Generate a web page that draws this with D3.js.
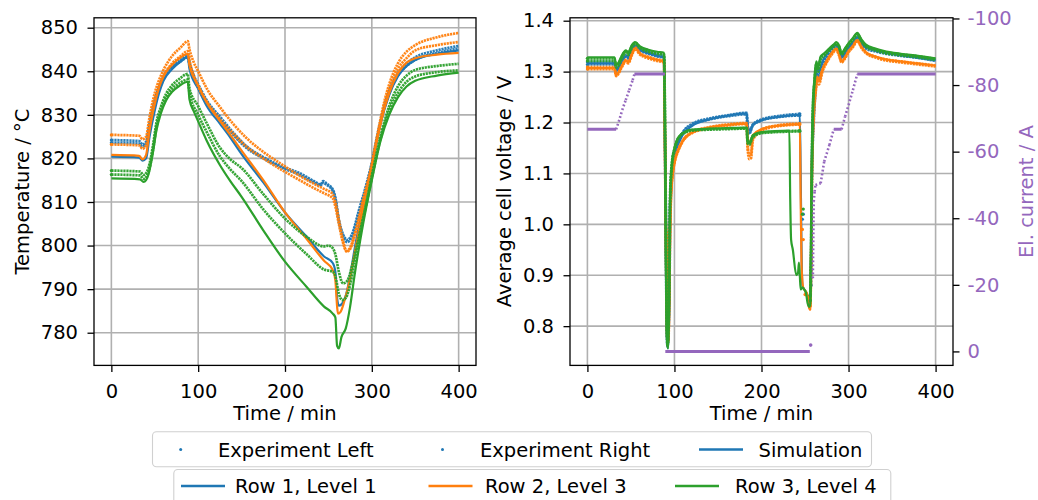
<!DOCTYPE html>
<html><head><meta charset="utf-8">
<script src="https://cdn.jsdelivr.net/npm/d3@7"></script>
<style>body{margin:0;background:#fff}svg text{font-family:"DejaVu Sans",sans-serif}</style>
</head><body><svg id="c" width="1038" height="500"></svg>
<script>
// ---------------- data ----------------
const timeTicks = [0,100,200,300,400];
const timeTickLabels = ['0','100','200','300','400'];
const tempTicks = [780,790,800,810,820,830,840,850];
const tempTickLabels = ['780','790','800','810','820','830','840','850'];
const voltTicks = [0.8,0.9,1.0,1.1,1.2,1.3,1.4];
const voltTickLabels = ['0.8','0.9','1.0','1.1','1.2','1.3','1.4'];
const currTicks = [0,-20,-40,-60,-80,-100];
const currTickLabels = ['0','-20','-40','-60','-80','-100'];
const rowNames = ['Row 1, Level 1','Row 2, Level 3','Row 3, Level 4'];
const kindNames = ['Experiment Left','Experiment Right','Simulation'];
const rowColors = ['#1f77b4','#ff7f0e','#2ca02c'];
const currentColor = '#9467bd';

// temperature [time min, °C]
const tBlueL = [[0,824.2],[32,824.0],[36,823.2],[40,823.8],[44,828],[50,833.5],[55,836.5],[60,838.8],[70,841.2],[80,842.8],[88,843.8],[90,842],[95,839],[100,837],[110,833.3],[125,829.6],[140,826],[155,822.9],[175,820.3],[195,818.3],[217,816.6],[235,814.6],[241,814],[244,814.8],[248,814.2],[255,812.9],[258,811],[262,806],[267,802.5],[272,801.3],[277,802.5],[285,808],[295,815],[300,819],[305,824],[310,828.5],[315,832.5],[320,835.5],[330,839.5],[340,841.8],[350,843.2],[375,844.8],[400,845.8]];
const tBlueR = [[0,823.6],[32,823.4],[36,822.7],[40,823.3],[44,827.3],[50,833],[55,836],[60,838.3],[70,840.8],[80,842.3],[88,843.2],[90,841.5],[95,838.5],[100,836.3],[110,832.8],[125,829],[140,825.5],[155,822.5],[175,820],[195,818],[217,816.2],[235,814.3],[241,813.8],[244,814.4],[248,813.9],[255,812.6],[258,810.5],[262,805.5],[267,802],[272,800.8],[277,802],[285,807.5],[295,814.5],[300,818.6],[305,823.5],[310,828],[315,832],[320,835],[330,839],[340,841.2],[350,842.6],[375,844.2],[400,845.2]];
const tBlueSim = [[0,820.4],[32,820.2],[36,819.5],[40,820],[44,825],[50,831],[55,835],[60,837.8],[70,840.5],[80,842.3],[88,843.3],[90,840.5],[100,836],[110,832],[125,828],[137,824.8],[150,821],[175,814.5],[200,807.6],[225,802],[245,797.5],[255,796],[258,794],[260,788],[262,786.2],[265,786.5],[270,788.5],[275,793],[280,799],[290,809],[300,818.5],[310,828],[320,834.5],[330,838.8],[340,841.2],[350,842.6],[375,844],[400,844.8]];
const tOrangeL = [[0,825.4],[32,825.2],[36,824.4],[40,825],[44,829.5],[50,835],[55,838],[60,840.3],[70,843.5],[80,845.5],[88,846.9],[90,845],[95,842],[100,840],[110,836],[125,831.8],[140,828],[155,824.8],[175,821.5],[195,818.8],[217,816],[235,814],[245,813],[255,811.8],[258,810],[262,806],[267,801],[271,798.6],[275,799.2],[280,802],[290,810],[300,818.5],[305,824],[310,829],[315,833.5],[320,837],[330,841.8],[340,844.5],[350,846],[375,847.8],[400,848.8]];
const tOrangeR = [[0,823.2],[32,823],[36,822.2],[40,823],[44,827.5],[50,833.5],[55,836.8],[60,839],[70,841.8],[80,843.5],[88,844.6],[90,842.5],[95,839],[100,836.5],[110,833],[125,829],[140,825.8],[155,822.8],[175,820],[195,817.5],[217,815],[235,813],[245,812],[255,810.8],[258,809],[262,805],[267,800.5],[271,798.8],[275,799.5],[280,802.5],[290,810.5],[300,818.5],[305,823.5],[310,828],[315,832.5],[320,836],[330,840.5],[340,843],[350,844.8],[375,846],[400,846.7]];
const tOrangeSim = [[0,820.8],[32,820.6],[36,819.8],[40,820.8],[44,826.5],[50,832.5],[55,836.3],[60,838.8],[70,841.5],[80,843.2],[88,844],[90,841.3],[100,836.8],[110,832.8],[125,828.6],[137,825.4],[150,821.8],[175,815],[200,807.6],[225,801.5],[245,796.5],[255,794.4],[258,792],[260,786],[261,784.4],[264,784.8],[268,787],[275,792.5],[280,798],[290,808.5],[300,818],[310,828],[320,835],[330,839.5],[340,842],[350,843],[375,843.8],[400,844.2]];
const tGreenL = [[0,817.2],[33,817],[37,816.2],[40,816.6],[43,818],[48,823],[52,828.3],[57,831.8],[63,834.8],[70,836.8],[78,838.2],[88,839.4],[90,836],[100,832],[110,828],[125,822.5],[137,819.8],[150,817.8],[175,811.8],[200,806.2],[225,802],[245,799.8],[250,800],[255,799.4],[258,798],[262,794],[267,791.3],[272,792],[278,796],[285,802],[295,811],[300,816],[310,825],[320,832],[330,836.5],[340,839],[350,840.3],[375,841.2],[400,841.7]];
const tGreenR = [[0,816.3],[33,816.1],[37,815.3],[40,815.7],[43,817],[48,822],[52,827.3],[57,831],[63,834],[70,836],[78,837.2],[88,838.1],[90,835],[100,830],[110,826],[125,820.5],[137,817.5],[150,814.8],[175,808.3],[200,802.8],[225,798],[245,794.5],[255,794],[258,793],[262,789],[266,787.5],[270,788],[275,791],[280,796],[290,806],[300,815.5],[310,824.5],[320,831],[330,835],[340,837.6],[350,838.8],[375,839.8],[400,840.2]];
const tGreenSim = [[0,815.4],[33,815.2],[37,814.6],[40,815],[43,816.5],[48,821.5],[52,826.5],[57,830.3],[63,833.3],[70,835.3],[78,836.6],[88,837.6],[90,833.5],[95,830.8],[100,828.5],[110,824],[125,818.5],[137,814.8],[150,811.2],[175,803.5],[200,796.3],[225,790.5],[245,786],[255,784.4],[258,783.5],[260,777],[262,776.4],[265,779],[270,781],[275,786],[280,793],[290,805],[300,815],[310,824],[320,830],[330,834],[340,836.5],[350,837.8],[375,839],[400,839.7]];

// average cell voltage [time min, V]  (null = gap in the measurement)
const vBlueL = [[0,1.314],[31,1.314],[33,1.300],[35,1.304],[40,1.320],[44,1.329],[47,1.326],[51,1.341],[55,1.349],[60,1.342],[70,1.335],[80,1.330],[88,1.327],[89,1.15],[90,1.02],[91,0.80],[92,0.76],[94,0.85],[95,1.04],[96,1.07],[98,1.12],[100,1.14],[105,1.165],[110,1.182],[120,1.197],[140,1.208],[160,1.214],[183,1.219],[184,1.19],[186,1.18],[190,1.196],[200,1.206],[220,1.213],[244,1.217],null,[247,1.01],null,[257,0.91],[258,1.12],[260,1.22],[262,1.27],[264,1.30],[266,1.29],[270,1.315],[275,1.33],[280,1.342],[286,1.350],[289,1.342],[292,1.328],[296,1.336],[300,1.346],[305,1.356],[310,1.366],[315,1.354],[320,1.347],[330,1.342],[340,1.338],[360,1.333],[380,1.329],[400,1.323]];
const vBlueR = [[0,1.319],[31,1.319],[33,1.305],[35,1.308],[40,1.323],[44,1.332],[47,1.329],[51,1.344],[55,1.352],[60,1.345],[70,1.338],[80,1.333],[88,1.330],[89,1.18],[90,1.06],[91,0.85],[92,0.77],[94,0.83],[95,1.00],[96,1.06],[98,1.11],[100,1.135],[105,1.162],[110,1.18],[120,1.195],[140,1.206],[160,1.212],[183,1.216],[184,1.188],[186,1.178],[190,1.194],[200,1.204],[220,1.211],[244,1.214],null,[248,1.02],null,[257,0.88],[258,1.10],[260,1.20],[262,1.26],[264,1.295],[266,1.285],[270,1.312],[275,1.328],[280,1.34],[286,1.35],[289,1.34],[292,1.326],[296,1.334],[300,1.344],[305,1.354],[310,1.364],[315,1.352],[320,1.345],[330,1.34],[340,1.336],[360,1.331],[380,1.327],[400,1.321]];
const vBlueSim = [[0,1.316],[31,1.316],[33,1.302],[35,1.305],[40,1.322],[44,1.330],[47,1.328],[51,1.342],[55,1.350],[60,1.343],[70,1.336],[80,1.331],[88,1.328],[89,1.20],[90,0.95],[91,0.80],[92,0.757],[93,0.757],[94,0.90],[95,1.05],[97,1.10],[100,1.135],[105,1.160],[110,1.177],[120,1.193],[140,1.206],[160,1.213],[183,1.218],[184,1.195],[187,1.185],[190,1.195],[200,1.204],[220,1.211],[244,1.215],[245,1.10],[246,0.95],[247,0.88],[250,0.87],[253,0.86],[255,0.845],[256,0.84],[257,0.95],[258,1.15],[260,1.25],[262,1.29],[264,1.31],[266,1.30],[270,1.32],[275,1.335],[280,1.345],[286,1.352],[289,1.345],[292,1.330],[296,1.338],[300,1.348],[305,1.358],[310,1.368],[315,1.355],[320,1.348],[330,1.343],[340,1.338],[360,1.332],[380,1.327],[400,1.322]];
const vOrangeL = [[0,1.305],[31,1.305],[33,1.291],[35,1.294],[40,1.31],[44,1.32],[47,1.316],[51,1.332],[55,1.344],[60,1.334],[70,1.326],[80,1.321],[88,1.318],[89,1.17],[90,1.0],[91,0.98],[92,0.79],[93,0.77],[95,0.98],[96,1.05],[98,1.10],[100,1.12],[105,1.147],[110,1.164],[120,1.179],[140,1.189],[160,1.194],[183,1.197],[184,1.15],[186,1.128],[188,1.13],[190,1.165],[200,1.184],[220,1.193],[244,1.196],null,[247,0.99],null,[250,0.862],[253,0.86],[255,0.836],[256,0.834],[257,0.92],[258,1.10],[260,1.21],[262,1.255],[264,1.28],[266,1.275],[270,1.30],[275,1.318],[280,1.332],[286,1.342],[289,1.332],[292,1.318],[296,1.326],[300,1.338],[305,1.348],[310,1.36],[315,1.346],[320,1.336],[330,1.328],[340,1.323],[360,1.318],[380,1.314],[400,1.31]];
const vOrangeR = [[0,1.309],[31,1.309],[33,1.294],[35,1.297],[40,1.313],[44,1.323],[47,1.319],[51,1.335],[55,1.347],[60,1.337],[70,1.329],[80,1.324],[88,1.321],[89,1.19],[90,1.02],[91,0.90],[92,0.80],[93,0.78],[95,0.99],[96,1.06],[98,1.105],[100,1.125],[105,1.15],[110,1.166],[120,1.181],[140,1.191],[160,1.196],[183,1.199],[184,1.16],[186,1.135],[188,1.14],[190,1.17],[200,1.186],[220,1.195],[244,1.198],null,[248,0.97],null,[251,0.865],[254,0.855],[256,0.838],[257,0.93],[258,1.11],[260,1.22],[262,1.26],[264,1.285],[266,1.28],[270,1.303],[275,1.32],[280,1.334],[286,1.344],[289,1.334],[292,1.32],[296,1.328],[300,1.34],[305,1.35],[310,1.362],[315,1.348],[320,1.338],[330,1.33],[340,1.325],[360,1.32],[380,1.316],[400,1.312]];
const vOrangeSim = [[0,1.307],[31,1.307],[33,1.293],[35,1.296],[40,1.312],[44,1.322],[47,1.318],[51,1.334],[55,1.346],[60,1.336],[70,1.328],[80,1.323],[88,1.320],[89,1.2],[90,0.95],[91,0.80],[92,0.76],[93,0.76],[94,0.88],[95,1.02],[97,1.08],[100,1.12],[105,1.148],[110,1.165],[120,1.180],[140,1.190],[160,1.195],[183,1.198],[184,1.17],[187,1.16],[190,1.175],[200,1.187],[220,1.194],[244,1.197],[245,1.05],[246,0.92],[248,0.875],[252,0.865],[255,0.835],[256,0.832],[257,0.93],[258,1.12],[260,1.23],[262,1.27],[264,1.29],[266,1.285],[270,1.305],[275,1.322],[280,1.335],[286,1.345],[289,1.335],[292,1.320],[296,1.328],[300,1.34],[305,1.35],[310,1.362],[315,1.348],[320,1.338],[330,1.330],[340,1.325],[360,1.320],[380,1.316],[400,1.312]];
const vGreenL = [[0,1.326],[31,1.326],[33,1.312],[35,1.314],[40,1.331],[44,1.340],[47,1.336],[51,1.350],[55,1.357],[60,1.349],[70,1.341],[80,1.337],[88,1.335],[89,1.22],[90,1.0],[91,0.82],[92,0.76],[94,0.88],[95,1.06],[97,1.12],[100,1.148],[103,1.165],[107,1.175],[112,1.181],[120,1.185],[140,1.187],[160,1.188],[183,1.189],[184,1.162],[186,1.158],[190,1.173],[200,1.18],[215,1.182],[230,1.183],[244,1.184],null,[248,1.03],null,[256,0.85],[257,0.96],[258,1.13],[259,1.22],[261,1.285],[263,1.315],[265,1.305],[268,1.327],[272,1.333],[278,1.344],[284,1.353],[286,1.356],[289,1.35],[292,1.335],[296,1.344],[300,1.354],[305,1.364],[310,1.374],[315,1.361],[320,1.351],[330,1.344],[340,1.339],[360,1.334],[380,1.33],[400,1.325]];
const vGreenR = [[0,1.321],[31,1.321],[33,1.308],[35,1.31],[40,1.327],[44,1.337],[47,1.333],[51,1.347],[55,1.355],[60,1.347],[70,1.339],[80,1.335],[88,1.333],[89,1.24],[90,1.03],[91,0.85],[92,0.765],[94,0.86],[95,1.04],[97,1.11],[100,1.145],[103,1.163],[107,1.174],[112,1.18],[120,1.184],[140,1.186],[160,1.187],[183,1.188],[184,1.16],[186,1.156],[190,1.171],[200,1.179],[215,1.181],[230,1.182],[244,1.183],null,[247,1.02],null,[256,0.86],[257,0.97],[258,1.14],[259,1.23],[261,1.28],[263,1.31],[265,1.3],[268,1.324],[272,1.331],[278,1.342],[284,1.351],[286,1.354],[289,1.348],[292,1.333],[296,1.342],[300,1.352],[305,1.362],[310,1.372],[315,1.359],[320,1.349],[330,1.342],[340,1.337],[360,1.332],[380,1.328],[400,1.323]];
const vGreenSim = [[0,1.328],[31,1.328],[33,1.314],[35,1.316],[40,1.333],[44,1.342],[47,1.338],[51,1.352],[55,1.358],[60,1.350],[70,1.343],[80,1.339],[88,1.337],[89,1.2],[90,0.95],[91,0.80],[92,0.757],[93,0.757],[94,0.9],[95,1.05],[97,1.12],[100,1.15],[103,1.166],[107,1.176],[112,1.182],[120,1.186],[140,1.188],[160,1.189],[183,1.190],[184,1.165],[186,1.16],[190,1.175],[200,1.181],[215,1.183],[232,1.184],[233,1.05],[234,0.97],[236,0.95],[240,0.90],[242,0.905],[243,0.925],[244,0.90],[245,0.872],[247,0.876],[249,0.872],[251,0.866],[253,0.845],[255,0.838],[256,0.842],[257,0.95],[258,1.12],[259,1.22],[261,1.29],[263,1.32],[265,1.31],[268,1.33],[272,1.336],[278,1.346],[284,1.355],[286,1.358],[289,1.352],[292,1.337],[296,1.346],[300,1.356],[305,1.366],[310,1.376],[315,1.363],[320,1.353],[330,1.346],[340,1.341],[360,1.335],[380,1.331],[400,1.326]];

// electrolysis current [time min, A]
const current = [[0,-66.7],[33,-66.7],[36,-69],[40,-72.5],[44,-75.5],[48,-78.5],[52,-81.5],[54,-83.3],[89,-83.3],null,[89.5,0],[255.5,0],null,[256.5,-1.9],null,[259,-22],[260,-45],[261,-48],[262,-50],[268,-50.5],[272,-57],[278,-62],[283,-66.7],[292,-66.7],[296,-70.5],[300,-74],[305,-78.5],[310,-83.3],[400,-83.3]];

// ---------------- layout ----------------
const FS = 19.5;
const TOP = 17.8, BOT = 365.4;
const svg = d3.select('#c');
const xL = d3.scaleLinear().domain([-20,420]).range([94,476]);
const yT = d3.scaleLinear().domain([772.5,852.27]).range([BOT,TOP]);
const xR = d3.scaleLinear().domain([-20,420]).range([570,953]);
const yV = d3.scaleLinear().domain([0.7229,1.4057]).range([BOT,TOP]);
const yA = d3.scaleLinear().domain([4.2,-100.2]).range([BOT,TOP]);

const defs = svg.append('defs');
[['clipL',xL],['clipR',xR]].forEach(([id,x])=>{
  defs.append('clipPath').attr('id',id).append('rect')
    .attr('x',x.range()[0]).attr('y',TOP).attr('width',x.range()[1]-x.range()[0]).attr('height',BOT-TOP);
});

function grid(x,y,xt,yt){
  const g = svg.append('g').attr('stroke','#b0b0b0').attr('stroke-width',1.6);
  g.selectAll('.gx').data(xt).join('line').attr('x1',d=>x(d)).attr('x2',d=>x(d)).attr('y1',TOP).attr('y2',BOT);
  g.selectAll('.gy').data(yt).join('line').attr('y1',d=>y(d)).attr('y2',d=>y(d)).attr('x1',x.range()[0]).attr('x2',x.range()[1]);
}
grid(xL,yT,timeTicks,tempTicks);
grid(xR,yV,timeTicks,voltTicks);

function drawSeries(clip,x,y,series){
  const g = svg.append('g').attr('clip-path',`url(#${clip})`);
  const line = d3.line().defined(d=>d!==null).x(d=>x(d[0])).y(d=>y(d[1])).curve(d3.curveMonotoneX);
  series.forEach(s=>{
    const col = rowColors[s.row];
    if(s.kind<2){
      g.append('path').attr('d',line(s.data)).attr('fill','none').attr('stroke',col)
        .attr('stroke-width',2.7).attr('stroke-dasharray','2.2,0.8').attr('opacity',0.95);
      g.selectAll(null).data(s.data.filter((d,i,a)=>d!==null && (a[i-1]===null||a[i+1]===null||i===0))).join('circle')
        .attr('cx',d=>x(d[0])).attr('cy',d=>y(d[1])).attr('r',1.6).attr('fill',col);
    } else {
      g.append('path').attr('d',line(s.data)).attr('fill','none').attr('stroke',col).attr('stroke-width',2.2);
    }
  });
}
drawSeries('clipL',xL,yT,[
  {row:0,kind:0,data:tBlueL},{row:0,kind:1,data:tBlueR},{row:0,kind:2,data:tBlueSim},
  {row:1,kind:0,data:tOrangeL},{row:1,kind:1,data:tOrangeR},{row:1,kind:2,data:tOrangeSim},
  {row:2,kind:0,data:tGreenL},{row:2,kind:1,data:tGreenR},{row:2,kind:2,data:tGreenSim}]);
drawSeries('clipR',xR,yV,[
  {row:0,kind:0,data:vBlueL},{row:0,kind:1,data:vBlueR},{row:0,kind:2,data:vBlueSim},
  {row:1,kind:0,data:vOrangeL},{row:1,kind:1,data:vOrangeR},{row:1,kind:2,data:vOrangeSim},
  {row:2,kind:0,data:vGreenL},{row:2,kind:1,data:vGreenR},{row:2,kind:2,data:vGreenSim}]);

// current (twin axis) drawn as dense markers: flat parts solid, ramps dotted
(function(){
  const g = svg.append('g').attr('clip-path','url(#clipR)');
  for(let i=0;i<current.length;i++){
    const a=current[i], b=current[i+1];
    if(a && b){
      const flat = Math.abs(a[1]-b[1])<0.01;
      g.append('line').attr('x1',xR(a[0])).attr('y1',yA(a[1])).attr('x2',xR(b[0])).attr('y2',yA(b[1]))
        .attr('stroke',currentColor).attr('stroke-width',flat?3:2.6)
        .attr('stroke-dasharray',flat?null:'1.8,2.2');
    } else if(a && (i===0||current[i-1]===null) && (b===null||b===undefined)){
      g.append('circle').attr('cx',xR(a[0])).attr('cy',yA(a[1])).attr('r',1.8).attr('fill',currentColor);
    }
  }
})();

// spines
[[xL],[xR]].forEach(([x])=>{
  svg.append('rect').attr('x',x.range()[0]).attr('y',TOP).attr('width',x.range()[1]-x.range()[0]).attr('height',BOT-TOP)
    .attr('fill','none').attr('stroke','#000').attr('stroke-width',1.3);
});

function styleAxis(g,color){
  g.select('.domain').remove();
  g.attr('font-size',FS).attr('font-family','"DejaVu Sans",sans-serif');
  g.selectAll('line').attr('stroke','#000').attr('stroke-width',1.3);
  g.selectAll('text').attr('fill',color||'#000');
}
styleAxis(svg.append('g').attr('transform',`translate(0,${BOT})`)
  .call(d3.axisBottom(xL).tickValues(timeTicks).tickFormat((d,i)=>timeTickLabels[i]).tickSize(6.5).tickPadding(12)));
styleAxis(svg.append('g').attr('transform',`translate(0,${BOT})`)
  .call(d3.axisBottom(xR).tickValues(timeTicks).tickFormat((d,i)=>timeTickLabels[i]).tickSize(6.5).tickPadding(12)));
styleAxis(svg.append('g').attr('transform',`translate(${xL.range()[0]},0)`)
  .call(d3.axisLeft(yT).tickValues(tempTicks).tickFormat((d,i)=>tempTickLabels[i]).tickSize(6.5).tickPadding(9.5)));
styleAxis(svg.append('g').attr('transform',`translate(${xR.range()[0]},0)`)
  .call(d3.axisLeft(yV).tickValues(voltTicks).tickFormat((d,i)=>voltTickLabels[i]).tickSize(6.5).tickPadding(9.5)));
styleAxis(svg.append('g').attr('transform',`translate(${xR.range()[1]},0)`)
  .call(d3.axisRight(yA).tickValues(currTicks).tickFormat((d,i)=>currTickLabels[i]).tickSize(6.5).tickPadding(8)), currentColor);

// axis labels
function label(txt,x,y,rot,color){
  svg.append('text').attr('transform',`translate(${x},${y})`+(rot?' rotate(-90)':''))
    .attr('text-anchor','middle').attr('font-size',FS).attr('fill',color||'#000').text(txt);
}
label('Time / min',(xL.range()[0]+xL.range()[1])/2,420);
label('Time / min',(xR.range()[0]+xR.range()[1])/2,420);
label('Temperature / °C',28.5,(TOP+BOT)/2,true);
label('Average cell voltage / V',511,(TOP+BOT)/2,true);
label('El. current / A',1033,(TOP+BOT)/2,true,currentColor);

// legends
function legendBox(x,y,w,h){
  svg.append('rect').attr('x',x).attr('y',y).attr('width',w).attr('height',h).attr('rx',4)
    .attr('fill','#fff').attr('fill-opacity',0.85).attr('stroke','#d0d0d0').attr('stroke-width',1.1);
}
legendBox(152.5,431.7,719,35);
const leg1 = [{hx:180.7,tx:218,type:'dot'},{hx:442.5,tx:480,type:'dot'},{hx:721,tx:758.5,type:'line'}];
leg1.forEach((d,i)=>{
  if(d.type==='dot') svg.append('circle').attr('cx',d.hx).attr('cy',449.5).attr('r',1.5).attr('fill',rowColors[0]);
  else svg.append('line').attr('x1',d.hx-22).attr('x2',d.hx+22).attr('y1',449.5).attr('y2',449.5).attr('stroke',rowColors[0]).attr('stroke-width',2.6);
  svg.append('text').attr('x',d.tx).attr('y',456.5).attr('font-size',FS).attr('fill','#000').text(kindNames[i]);
});
legendBox(173.8,469.5,717,40);
const leg2 = [{hx:203,tx:235},{hx:450.5,tx:485},{hx:697,tx:735}];
leg2.forEach((d,i)=>{
  svg.append('line').attr('x1',d.hx-22).attr('x2',d.hx+22).attr('y1',486).attr('y2',486).attr('stroke',rowColors[i]).attr('stroke-width',2.6);
  svg.append('text').attr('x',d.tx).attr('y',493).attr('font-size',FS).attr('fill','#000').text(rowNames[i]);
});
</script></body></html>
